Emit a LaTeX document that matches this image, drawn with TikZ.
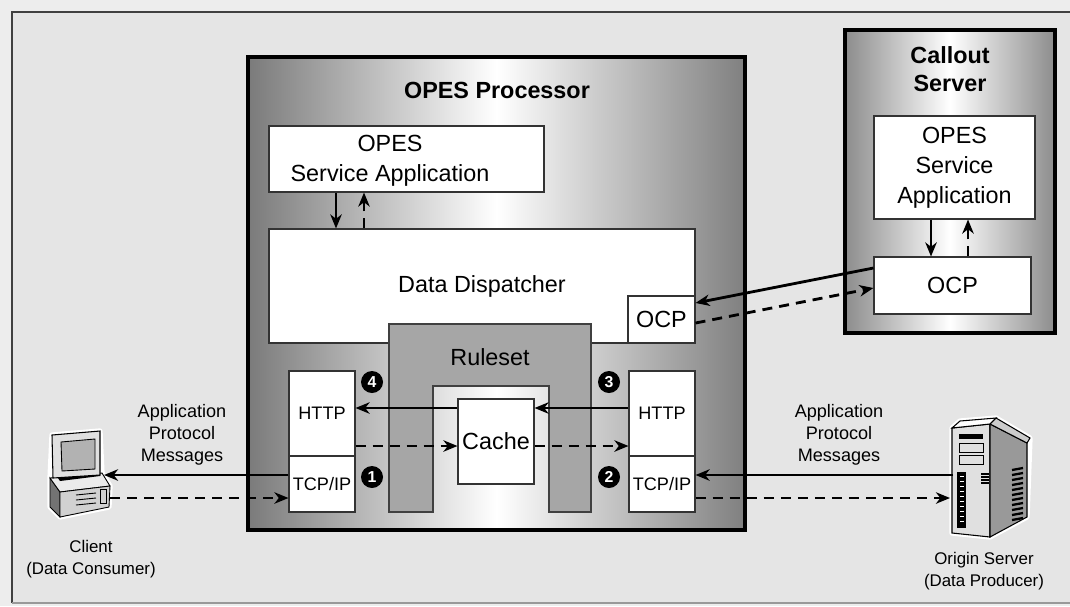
\documentclass[tikz,border=0pt]{standalone}
\usepackage{fontspec}
\setmainfont{Liberation Sans}
\usetikzlibrary{arrows.meta,positioning}

\tikzset{
  bigtxt/.style={font=\fontsize{13.3}{17}\selectfont},
  midtxt/.style={font=\fontsize{10.3}{12.5}\selectfont},
  smalltxt/.style={font=\fontsize{9.6}{12.5}\selectfont},
  titletxt/.style={font=\bfseries\fontsize{13.3}{16}\selectfont,align=center},
  boxsize/.style 2 args={minimum width=#1*0.02cm,minimum height=#2*0.02cm},
  wbox/.style={draw=black!80,fill=white,line width=0.6pt,inner sep=0pt,align=center,bigtxt},
  stackbox/.style={wbox,midtxt},
  procbox/.style={draw=black,line width=2.8pt,inner sep=0pt,
    left color=black!52,right color=black!50,middle color=white},
  badge/.style={circle,fill=black,text=white,inner sep=0pt,minimum size=0.44cm,
    font=\bfseries\fontsize{9}{9}\selectfont},
  solidarr/.style={line width=1.6pt,-{Stealth[length=8pt,width=6.5pt,inset=2.5pt]}},
  dasharr/.style={solidarr,dash pattern=on 5.7pt off 4pt},
}

\begin{document}
\begin{tikzpicture}[x=0.02cm,y=-0.02cm]
\useasboundingbox (0,0) rectangle (1070,606);

% panel
\fill[black!7] (0,0) rectangle (1070,606);
\fill[black!10] (12,12) rectangle (1070,603);
\draw[black!75,line width=0.7pt] (12,603) -- (12,12) -- (1070,12);
\draw[black!40,line width=0.6pt] (12,603) -- (1070,603);

% OPES processor
\node[procbox,boxsize={497}{473}] (proc) at (496.5,293.5) {};
\node[titletxt] (proctitle) at (497,90) {OPES Processor};
\node[wbox,boxsize={275}{66}] (sa) at (406.5,159) {};
\node[bigtxt,align=center] (satxt) at (390,161) {OPES\\Service Application};
\node[wbox,boxsize={426}{114}] (dd) at (482,286) {Data Dispatcher};
\node[wbox,boxsize={67}{47}] (ocpd) at (661.5,319.5) {OCP};

% ruleset wraps the cache
\filldraw[fill=black!35,draw=black!75,line width=0.6pt]
  (389,324) -- (591,324) -- (591,512) -- (549,512) -- (549,386)
  -- (433,386) -- (433,512) -- (389,512) -- cycle;
\node[bigtxt] (rules) at (490,357) {Ruleset};
\node[wbox,boxsize={76}{85}] (cache) at (496,441.5) {Cache};

% protocol stacks
\node[stackbox,boxsize={66}{85}] (httpl) at (322,413.5) {HTTP};
\node[stackbox,boxsize={66}{56}] (tcpl) at (322,484) {TCP/IP};
\node[stackbox,boxsize={66}{85}] (httpr) at (662,413.5) {HTTP};
\node[stackbox,boxsize={66}{56}] (tcpr) at (662,484) {TCP/IP};

\node[badge] (b4) at (372,382) {4};
\node[badge] (b1) at (372,477) {1};
\node[badge] (b3) at (609,382) {3};
\node[badge] (b2) at (609,477) {2};

% callout server
\node[procbox,left color=black!45,right color=black!45,middle color=white,
  boxsize={210}{303}] (callout) at (950,181.5) {};
\node[titletxt] (calltitle) at (950,69) {Callout\\Server};
\node[wbox,boxsize={161}{103}] (csa) at (954.5,167.5) {OPES\\Service\\Application};
\node[wbox,boxsize={157}{57}] (ocpc) at (952.5,285.5) {OCP};

% client computer
\draw[white,line width=3pt,line join=round]
  (52,435) -- (100,431) -- (102,473) -- (110,486) -- (109,507) -- (60,517) -- (50,507) -- (50,478) -- cycle;
\filldraw[fill=black!55,draw=black,line width=0.5pt] (50,478) -- (60,492) -- (60,517) -- (50,507) -- cycle;
\filldraw[fill=black!8,draw=black,line width=0.5pt] (50,478) -- (102,473) -- (110,486) -- (60,492) -- cycle;
\filldraw[fill=black!18,draw=black,line width=0.5pt] (60,492) -- (110,486) -- (109,507) -- (60,517) -- cycle;
\foreach \k in {0,1,2}
  \draw[black,line width=0.5pt] (76,495+5*\k) -- (96,493+5*\k);
\draw[black,line width=0.5pt] (100,489) rectangle (106,503);
\fill[black] (58,478) -- (100,473) -- (100,476) -- (60,481) -- cycle;
\filldraw[fill=black!12,draw=black,line width=0.6pt] (52,435) -- (100,431) -- (100,475) -- (53,478) -- cycle;
\filldraw[fill=black!30,draw=black,line width=0.5pt] (61,442) -- (95,439) -- (95,469) -- (62,471) -- cycle;
\coordinate (pcin) at (104,475);
\coordinate (pcout) at (110,498);

% origin server tower
\draw[white,line width=3pt,line join=round]
  (952,428) -- (960,421) -- (996,418) -- (1030,438) -- (1027,517) -- (990,537) -- (952,533) -- cycle;
\filldraw[fill=black!12,draw=black,line width=0.6pt] (952,428) -- (990,424) -- (990,537) -- (952,533) -- cycle;
\filldraw[fill=black!40,draw=black,line width=0.6pt] (990,424) -- (1027,443) -- (1027,517) -- (990,537) -- cycle;
\filldraw[fill=white,draw=black,line width=0.6pt] (952,428) -- (960,421) -- (996,418) -- (990,424) -- cycle;
\filldraw[fill=black!20,draw=black,line width=0.6pt] (990,424) -- (996,418) -- (1030,438) -- (1027,443) -- cycle;
\fill[black] (959,434) rectangle (983,439);
\draw[black,line width=0.5pt] (959,443) rectangle (983,452);
\draw[black,line width=0.5pt] (959,455) rectangle (983,464);
\fill[black] (957,472) rectangle (966,528);
\foreach \k in {0,...,9}
  \draw[white,line width=0.5pt] (960,476+5*\k) -- (964,476+5*\k);
\foreach \k in {0,...,3}
  \draw[black,line width=0.8pt] (981,474+3*\k) -- (989,474+3*\k);
\foreach \k in {0,...,10}
  \draw[black,line width=1.3pt] (1012,470+5*\k) -- (1023,468+5*\k);
\coordinate (srvin) at (953,475);
\coordinate (srvout) at (950,498);

% message rows and columns
\coordinate (rowA) at (0,408);
\coordinate (rowB) at (0,446);
\coordinate (rowC) at (0,475);
\coordinate (rowD) at (0,498);
\coordinate (ocpA) at (0,268);
\coordinate (ocpB) at (0,303);
\coordinate (ocpC) at (0,323);
\coordinate (ocpD) at (0,288);
\coordinate (colA) at (336,0);
\coordinate (colB) at (364,0);
\coordinate (colC) at (931,0);
\coordinate (colD) at (968,0);

\draw[solidarr] (httpr.west |- rowA) -- (cache.east |- rowA);
\draw[solidarr] (cache.west |- rowA) -- (httpl.east |- rowA);
\draw[dasharr] (httpl.east |- rowB) -- (cache.west |- rowB);
\draw[dasharr] (cache.east |- rowB) -- (httpr.west |- rowB);

\draw[solidarr] (tcpl.west |- rowC) -- (pcin);
\draw[dasharr] (pcout) -- (tcpl.west |- rowD);
\draw[solidarr] (srvin) -- (tcpr.east |- rowC);
\draw[dasharr] (tcpr.east |- rowD) -- (srvout);

\draw[solidarr] (ocpc.west |- ocpA) -- (ocpd.east |- ocpB);
\draw[dasharr] (ocpd.east |- ocpC) -- (ocpc.west |- ocpD);

\draw[solidarr] (sa.south -| colA) -- (dd.north -| colA);
\draw[dasharr] (dd.north -| colB) -- (sa.south -| colB);
\draw[solidarr] (csa.south -| colC) -- (ocpc.north -| colC);
\draw[dasharr] (ocpc.north -| colD) -- (csa.south -| colD);

% labels
\node[midtxt,align=center] (apml) at (182,435) {Application\\Protocol\\Messages};
\node[midtxt,align=center] (apmr) at (839,435) {Application\\Protocol\\Messages};
\node[smalltxt,align=center] (pclbl) at (91,559) {Client\\(Data Consumer)};
\node[smalltxt,align=center] (srvlbl) at (984,571) {Origin Server\\(Data Producer)};

\end{tikzpicture}
\end{document}
